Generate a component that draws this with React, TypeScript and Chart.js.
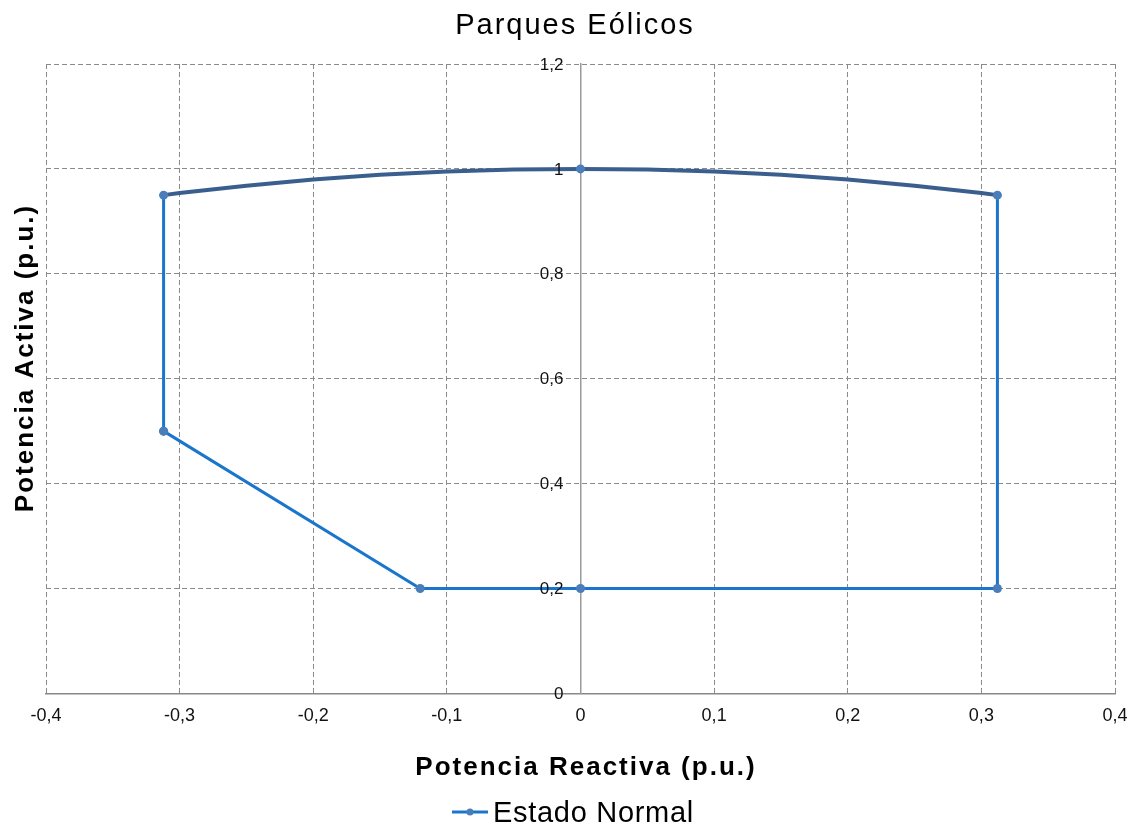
import React, { useEffect, useRef } from 'react';
import { Chart, registerables } from 'chart.js';

Chart.register(...registerables);

const chartTitle = 'Parques Eólicos';
const seriesName = 'Estado Normal';
const xAxisTitle = 'Potencia Reactiva (p.u.)';
const yAxisTitle = 'Potencia Activa (p.u.)';

// Corner points of the capability polygon (drawn with markers), in path order
const vertexQ = [-0.312, -0.312, 0, 0.312, 0.312, 0, -0.12, -0.312];
const vertexP = [0.5, 0.95, 1.0, 0.95, 0.2, 0.2, 0.2, 0.5];

// Intermediate points along the upper arc (no markers)
const arcLeftQ = [-0.3, -0.25, -0.2, -0.15, -0.1, -0.05];
const arcLeftP = [0.954, 0.968, 0.98, 0.989, 0.995, 0.999];
const arcRightQ = [0.05, 0.1, 0.15, 0.2, 0.25, 0.3];
const arcRightP = [0.999, 0.995, 0.989, 0.98, 0.968, 0.954];

const xTicksMin = -0.4;
const xTicksMax = 0.4;
const xStep = 0.1;
const yTicksMin = 0;
const yTicksMax = 1.2;
const yStep = 0.2;

const FONT = '"Liberation Sans", Arial, sans-serif';
const LINE_COLOR = '#1a76cc';
const ARC_COLOR = '#3a5f8e';
const MARKER_COLOR = '#4a7ebb';
const GRID_COLOR = '#8a8a8a';

type Pt = { x: number; y: number; marker: boolean; arc: boolean };

function buildPath(): Pt[] {
  const pts: Pt[] = [];
  const v = (i: number, arc: boolean) => pts.push({ x: vertexQ[i], y: vertexP[i], marker: true, arc });
  v(0, false);
  v(1, true);
  arcLeftQ.forEach((q, i) => pts.push({ x: q, y: arcLeftP[i], marker: false, arc: true }));
  v(2, true);
  arcRightQ.forEach((q, i) => pts.push({ x: q, y: arcRightP[i], marker: false, arc: true }));
  v(3, true);
  v(4, false);
  v(5, false);
  v(6, false);
  v(7, false);
  return pts;
}

function fmt(value: number): string {
  const v = Math.round(value * 10) / 10;
  return String(v).replace('.', ',');
}

const textPlugin = {
  id: 'customTexts',
  afterDraw(chart: any) {
    const ctx: CanvasRenderingContext2D = chart.ctx;
    const xs = chart.scales.x;
    const ys = chart.scales.y;
    ctx.save();
    // Y tick labels, right-aligned left of the centred axis
    ctx.fillStyle = '#111';
    ctx.font = `17px ${FONT}`;
    ctx.textAlign = 'right';
    ctx.textBaseline = 'middle';
    const axisX = xs.getPixelForValue(0);
    ys.ticks.forEach((t: any) => {
      ctx.fillText(fmt(t.value), axisX - 17, ys.getPixelForValue(t.value) + 1);
    });

    ctx.fillStyle = '#000';
    ctx.textBaseline = 'alphabetic';
    ctx.textAlign = 'center';
    // Title
    (ctx as any).letterSpacing = '2px';
    ctx.font = `29px ${FONT}`;
    ctx.fillText(chartTitle, 575, 34);
    // X axis title
    (ctx as any).letterSpacing = '2px';
    ctx.font = `bold 26px ${FONT}`;
    ctx.fillText(xAxisTitle, 586, 775);
    // Y axis title
    ctx.save();
    ctx.translate(33, 358);
    ctx.rotate(-Math.PI / 2);
    ctx.fillText(yAxisTitle, 0, 0);
    ctx.restore();
    // Legend
    ctx.strokeStyle = LINE_COLOR;
    ctx.lineWidth = 3;
    ctx.beginPath();
    ctx.moveTo(452, 812);
    ctx.lineTo(488, 812);
    ctx.stroke();
    ctx.fillStyle = MARKER_COLOR;
    ctx.beginPath();
    ctx.arc(470, 812, 3.5, 0, Math.PI * 2);
    ctx.fill();
    ctx.fillStyle = '#000';
    ctx.textAlign = 'left';
    (ctx as any).letterSpacing = '0.7px';
    ctx.font = `29px ${FONT}`;
    ctx.fillText(seriesName, 493, 822);
    ctx.restore();
  },
};

export default function App() {
  const canvasRef = useRef<HTMLCanvasElement | null>(null);

  useEffect(() => {
    if (!canvasRef.current) return;
    const data = buildPath();
    const chart = new Chart(canvasRef.current, {
      type: 'scatter',
      data: {
        datasets: [
          {
            label: seriesName,
            data: data as any,
            showLine: true,
            borderColor: LINE_COLOR,
            borderWidth: 3,
            backgroundColor: MARKER_COLOR,
            pointBackgroundColor: MARKER_COLOR,
            pointBorderWidth: 0,
            pointRadius: (c: any) => (c.raw && c.raw.marker ? 4.5 : 0),
            pointHoverRadius: (c: any) => (c.raw && c.raw.marker ? 4.5 : 0),
            tension: 0,
            segment: {
              borderColor: (c: any) => {
                const a = data[c.p0DataIndex];
                const b = data[c.p1DataIndex];
                return a && b && a.arc && b.arc ? ARC_COLOR : undefined;
              },
              borderWidth: (c: any) => {
                const a = data[c.p0DataIndex];
                const b = data[c.p1DataIndex];
                return a && b && a.arc && b.arc ? 4 : undefined;
              },
            },
          } as any,
        ],
      },
      options: {
        animation: false,
        responsive: true,
        maintainAspectRatio: false,
        layout: { padding: { left: 46, right: 21, top: 64, bottom: 87 } },
        font: { family: FONT } as any,
        plugins: {
          legend: { display: false },
          title: { display: false },
          tooltip: { enabled: false },
        },
        scales: {
          x: {
            type: 'linear',
            position: 'bottom',
            min: xTicksMin,
            max: xTicksMax,
            afterFit: (scale: any) => {
              scale.paddingLeft = 0;
              scale.paddingRight = 0;
            },
            ticks: {
              stepSize: xStep,
              color: '#111',
              font: { family: FONT, size: 18 },
              padding: 12,
              callback: (v: any) => fmt(Number(v)),
            },
            grid: {
              drawTicks: false,
              color: (c: any) => (c.tick && Math.abs(c.tick.value) < 1e-9 ? 'rgba(0,0,0,0)' : GRID_COLOR),
              lineWidth: 1,
            },
            border: { display: true, color: '#888', width: 1.5, dash: [5, 3] },
          },
          y: {
            type: 'linear',
            position: { x: 0 } as any,
            min: yTicksMin,
            max: yTicksMax,
            ticks: {
              stepSize: yStep,
              display: false,
            },
            grid: {
              drawTicks: false,
              color: (c: any) => (c.tick && Math.abs(c.tick.value) < 1e-9 ? 'rgba(0,0,0,0)' : GRID_COLOR),
              lineWidth: 1,
            },
            border: { display: true, color: '#999', width: 1.5, dash: [5, 3] },
          },
        },
      } as any,
      plugins: [textPlugin],
    });
    return () => chart.destroy();
  }, []);

  return (
    <div style={{ position: 'fixed', left: 0, top: 0, width: 1136, height: 826, background: '#fff' }}>
      <canvas ref={canvasRef} />
    </div>
  );
}
